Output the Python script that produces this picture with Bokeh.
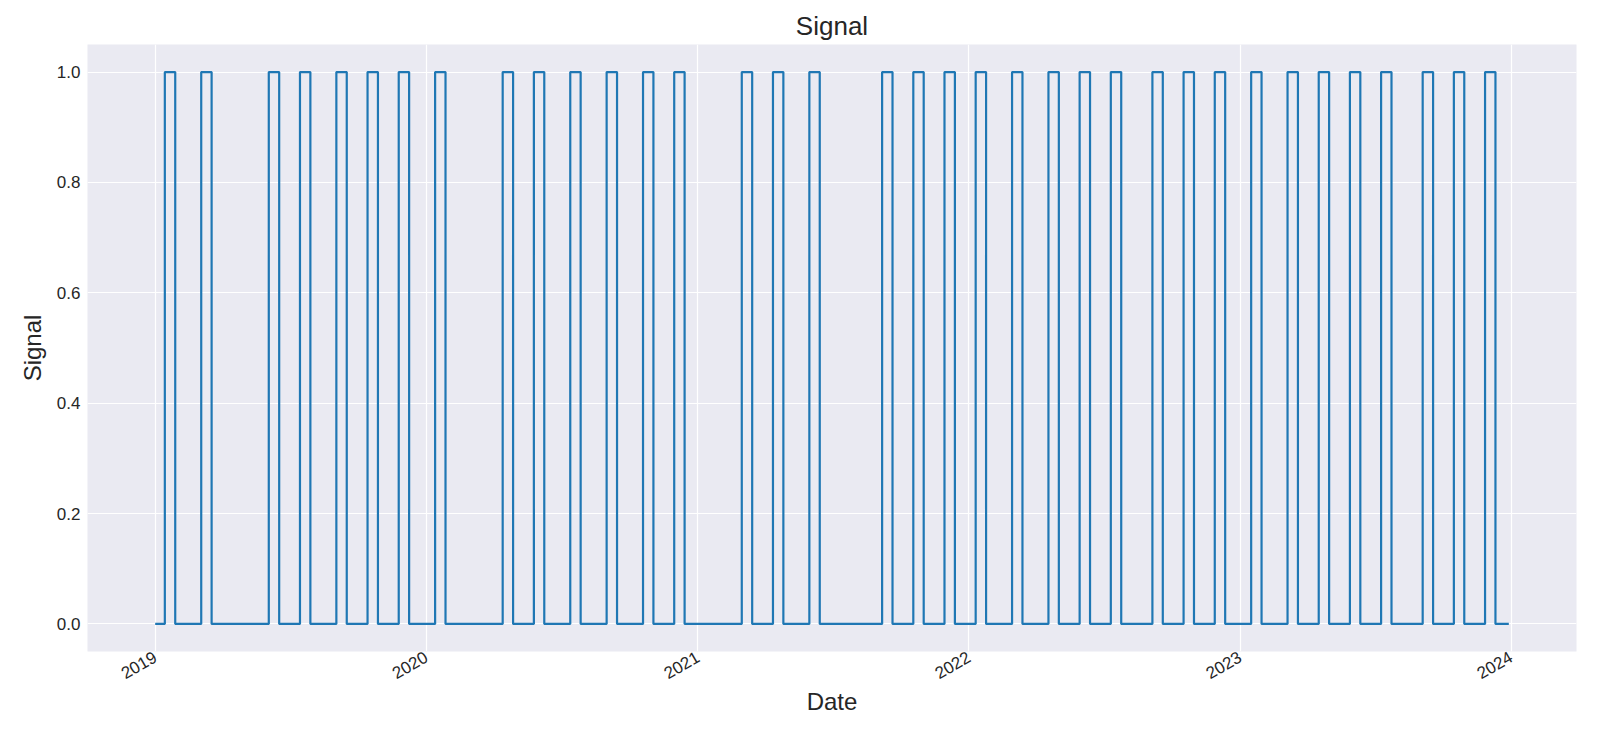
import pandas as pd
from bokeh.plotting import figure
from bokeh.models import FixedTicker, DatetimeTickFormatter, PrintfTickFormatter, Range1d
from bokeh.embed import file_html
from bokeh.resources import INLINE
import math

# ---- data ----
series_start = "2019-01-01"
series_end = "2023-12-29"
pulse_start = [
    "2019-01-14", "2019-03-04", "2019-06-03", "2019-07-15", "2019-09-02", "2019-10-14", "2019-11-25",
    "2020-01-13", "2020-04-13", "2020-05-25", "2020-07-13", "2020-08-31", "2020-10-19", "2020-11-30",
    "2021-03-01", "2021-04-12", "2021-05-31", "2021-09-06", "2021-10-18", "2021-11-29",
    "2022-01-10", "2022-02-28", "2022-04-18", "2022-05-30", "2022-07-11", "2022-09-05", "2022-10-17", "2022-11-28",
    "2023-01-16", "2023-03-06", "2023-04-17", "2023-05-29", "2023-07-10", "2023-09-04", "2023-10-16", "2023-11-27",
]
pulse_end = [
    "2019-01-28", "2019-03-18", "2019-06-17", "2019-07-29", "2019-09-16", "2019-10-28", "2019-12-09",
    "2020-01-27", "2020-04-27", "2020-06-08", "2020-07-27", "2020-09-14", "2020-11-02", "2020-12-14",
    "2021-03-15", "2021-04-26", "2021-06-14", "2021-09-20", "2021-11-01", "2021-12-13",
    "2022-01-24", "2022-03-14", "2022-05-02", "2022-06-13", "2022-07-25", "2022-09-19", "2022-10-31", "2022-12-12",
    "2023-01-30", "2023-03-20", "2023-05-01", "2023-06-12", "2023-07-24", "2023-09-18", "2023-10-30", "2023-12-11",
]
year_ticks = ["2019-01-01", "2020-01-01", "2021-01-01", "2022-01-01", "2023-01-01", "2024-01-01"]
y_ticks = [0.0, 0.2, 0.4, 0.6, 0.8, 1.0]

# ---- build step series ----
xs = [series_start]
ys = [0]
for s, e in zip(pulse_start, pulse_end):
    xs += [s, e]
    ys += [1, 0]
xs.append(series_end)
ys.append(0)
dates = pd.to_datetime(xs)

def ms(d):
    return pd.Timestamp(d).value / 1e6

x0, x1 = ms(series_start), ms(series_end)
pad = (x1 - x0) * 0.05

TXT = "#262626"
FONT = "Liberation Sans"

p = figure(width=1584, height=717, x_axis_type="datetime", output_backend="svg",
           toolbar_location=None,
           x_range=Range1d(x0 - pad, x1 + pad), y_range=Range1d(-0.05, 1.05),
           min_border_left=87, min_border_right=8, min_border_top=44, min_border_bottom=64)

p.step(x=dates, y=ys, mode="after", line_color="#1f77b4", line_width=2.2)

p.title.text = "Signal"
p.title.align = "center"
p.title.text_font = FONT
p.title.text_font_size = "26px"
p.title.text_font_style = "normal"
p.title.text_color = TXT
p.title.standoff = 8

p.background_fill_color = "#EAEAF2"
p.border_fill_color = "white"
p.outline_line_color = None

for g in (p.xgrid, p.ygrid):
    g.grid_line_color = "white"
    g.grid_line_width = 1.2

p.xaxis.ticker = FixedTicker(ticks=[ms(t) for t in year_ticks])
p.xaxis.formatter = DatetimeTickFormatter(years="%Y", months="%Y", days="%Y", hours="%Y",
                                          minutes="%Y", seconds="%Y", milliseconds="%Y",
                                          microseconds="%Y", hourmin="%Y", minsec="%Y")
p.xaxis.major_label_orientation = math.pi / 6
p.yaxis.ticker = FixedTicker(ticks=y_ticks)
p.yaxis.formatter = PrintfTickFormatter(format="%.1f")

p.xaxis.axis_label = "Date"
p.yaxis.axis_label = "Signal"

for ax in (p.xaxis, p.yaxis):
    ax.axis_line_color = None
    ax.major_tick_line_color = None
    ax.minor_tick_line_color = None
    ax.major_tick_out = 0
    ax.major_tick_in = 0
    ax.minor_tick_out = 0
    ax.major_label_text_font = FONT
    ax.major_label_text_font_size = "17px"
    ax.major_label_text_color = TXT
    ax.axis_label_text_font = FONT
    ax.axis_label_text_font_size = "24px"
    ax.axis_label_text_font_style = "normal"
    ax.axis_label_text_color = TXT

p.yaxis.major_label_standoff = 7
p.yaxis.axis_label_standoff = 8
p.xaxis.major_label_standoff = 4
p.xaxis.axis_label_standoff = 0

open("out.html", "w").write(file_html(p, INLINE))
